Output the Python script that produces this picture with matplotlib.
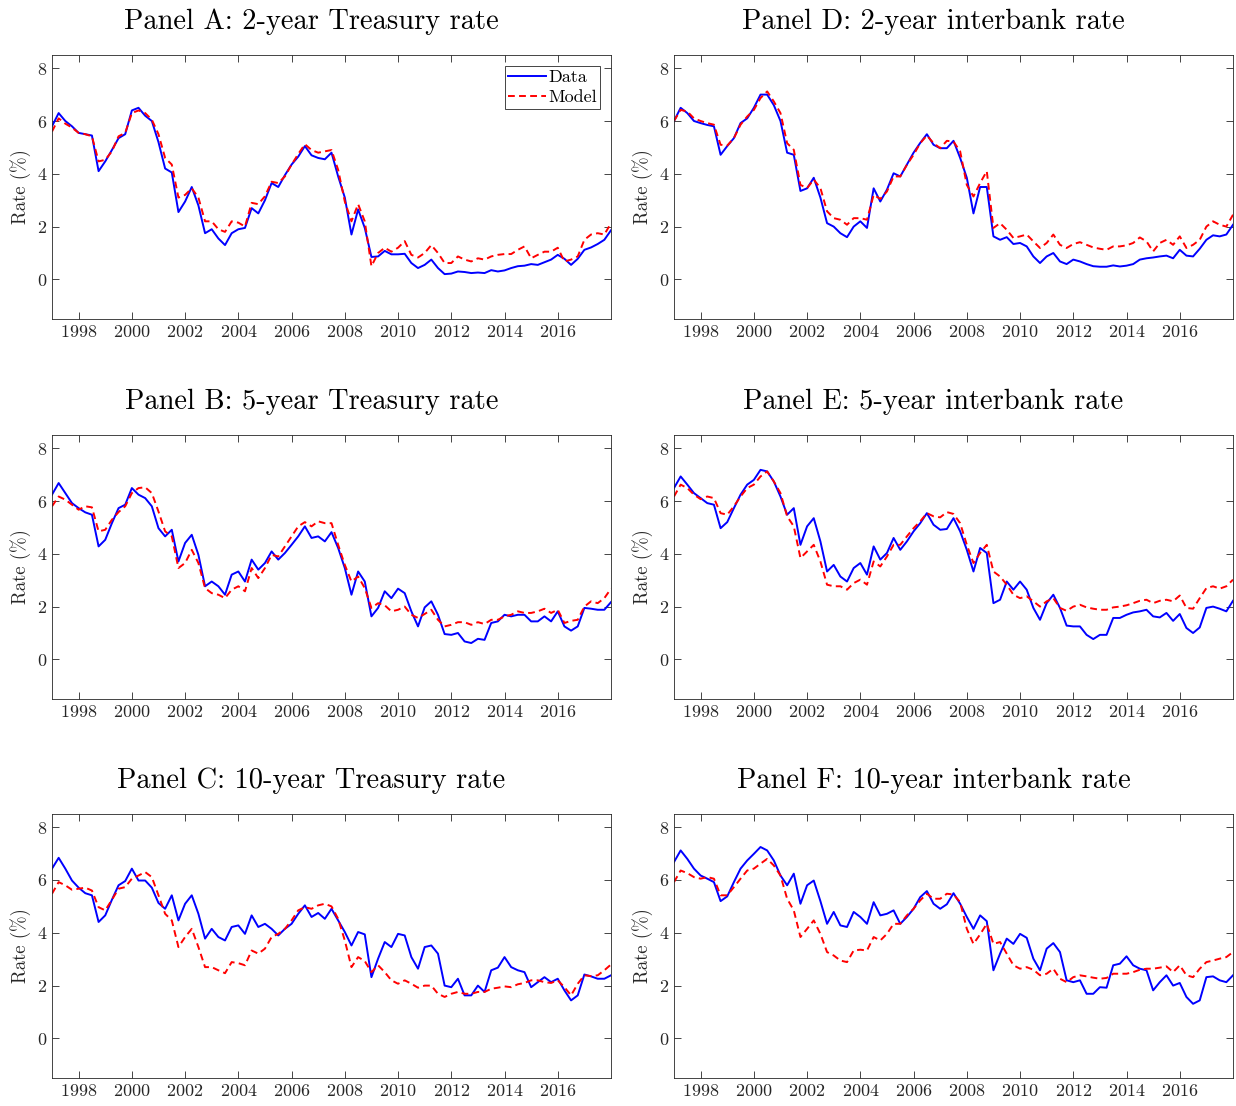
import numpy as np
import matplotlib
matplotlib.use('Agg')
import matplotlib.pyplot as plt

plt.rcParams['font.family'] = ['cmr10', 'DejaVu Serif']
plt.rcParams['axes.unicode_minus'] = False
plt.rcParams['axes.formatter.use_mathtext'] = True

# quarterly observations, Jan 1997 .. end 2017
years = 1997 + np.arange(85) * 0.25

a_data = [5.8, 6.3, 6.0, 5.8,
          5.55, 5.5, 5.45, 4.1, 4.47, 4.9, 5.35, 5.5, 6.4, 6.5, 6.2, 6.0,
          5.2, 4.2, 4.05, 2.55, 2.95, 3.5, 2.8, 1.75, 1.9, 1.55, 1.3, 1.75,
          1.9, 1.95, 2.7, 2.5, 3.0, 3.65, 3.5, 3.95, 4.35, 4.65, 5.05, 4.7,
          4.6, 4.55, 4.8, 3.9, 3.1, 1.7, 2.65, 1.95, 0.85, 0.87, 1.08, 0.95,
          0.95, 0.97, 0.62, 0.43, 0.55, 0.75, 0.43, 0.2, 0.22, 0.3, 0.28, 0.24,
          0.26, 0.24, 0.35, 0.3, 0.34, 0.43, 0.5, 0.52, 0.58, 0.55, 0.65, 0.75,
          0.93, 0.78, 0.55, 0.78, 1.12, 1.21, 1.34, 1.5, 1.86]
a_model = [5.6, 6.1, 5.9, 5.75,
           5.55, 5.5, 5.42, 4.47, 4.53, 4.85, 5.42, 5.55, 6.3, 6.4, 6.3, 6.05,
           5.5, 4.6, 4.35, 3.1, 3.2, 3.45, 3.1, 2.2, 2.2, 1.9, 1.8, 2.2,
           2.15, 2.0, 2.9, 2.85, 3.15, 3.7, 3.65, 3.9, 4.35, 4.75, 5.12, 4.9,
           4.8, 4.85, 4.9, 4.15, 2.95, 2.2, 2.85, 2.2, 0.5, 1.0, 1.2, 1.05,
           1.2, 1.45, 0.93, 0.83, 1.0, 1.3, 1.0, 0.62, 0.62, 0.87, 0.75, 0.68,
           0.8, 0.75, 0.87, 0.93, 0.96, 0.96, 1.12, 1.25, 0.8, 0.93, 1.05, 1.05,
           1.2, 0.68, 0.75, 0.87, 1.5, 1.7, 1.75, 1.7, 2.13]

b_data = [6.24, 6.68, 6.3, 5.92,
          5.73, 5.57, 5.48, 4.28, 4.53, 5.16, 5.73, 5.86, 6.49, 6.24, 6.11, 5.8,
          4.97, 4.66, 4.91, 3.71, 4.41, 4.72, 3.96, 2.77, 2.95, 2.77, 2.45, 3.21,
          3.33, 2.95, 3.78, 3.4, 3.65, 4.09, 3.78, 4.03, 4.34, 4.66, 5.04, 4.6,
          4.66, 4.47, 4.82, 4.22, 3.46, 2.45, 3.33, 2.95, 1.63, 1.95, 2.58, 2.32,
          2.68, 2.51, 1.82, 1.25, 1.97, 2.2, 1.69, 0.96, 0.93, 1.0, 0.68, 0.62,
          0.78, 0.74, 1.38, 1.44, 1.69, 1.63, 1.69, 1.69, 1.44, 1.44, 1.63, 1.44,
          1.82, 1.25, 1.09, 1.25, 1.95, 1.92, 1.88, 1.88, 2.17]
b_model = [5.8, 6.17, 6.05, 5.86,
           5.67, 5.8, 5.76, 4.85, 4.91, 5.29, 5.58, 5.8, 6.3, 6.49, 6.52, 6.3,
           5.6, 4.85, 4.66, 3.46, 3.65, 4.15, 3.65, 2.7, 2.51, 2.45, 2.32, 2.64,
           2.77, 2.58, 3.46, 3.08, 3.46, 3.96, 3.9, 4.28, 4.66, 5.04, 5.2, 5.04,
           5.23, 5.16, 5.16, 4.34, 3.58, 2.95, 3.14, 2.7, 1.95, 2.13, 2.05, 1.82,
           1.88, 2.0, 1.69, 1.57, 1.72, 1.88, 1.5, 1.25, 1.31, 1.41, 1.41, 1.31,
           1.41, 1.34, 1.5, 1.5, 1.63, 1.69, 1.82, 1.76, 1.76, 1.82, 1.92, 1.76,
           1.88, 1.38, 1.46, 1.5, 2.0, 2.2, 2.13, 2.32, 2.68]

c_data = [6.43, 6.84, 6.43, 5.98,
          5.71, 5.5, 5.42, 4.41, 4.66, 5.25, 5.8, 5.96, 6.43, 5.98, 5.98, 5.71,
          5.13, 4.91, 5.42, 4.47, 5.1, 5.42, 4.72, 3.78, 4.15, 3.84, 3.71, 4.22,
          4.28, 3.96, 4.66, 4.22, 4.34, 4.15, 3.9, 4.15, 4.34, 4.72, 5.04, 4.6,
          4.75, 4.53, 4.91, 4.47, 4.03, 3.52, 4.03, 3.94, 2.32, 3.02, 3.65, 3.46,
          3.96, 3.9, 3.08, 2.64, 3.46, 3.52, 3.21, 2.0, 1.94, 2.26, 1.63, 1.63,
          2.0, 1.76, 2.58, 2.68, 3.08, 2.7, 2.58, 2.51, 1.94, 2.13, 2.32, 2.13,
          2.26, 1.82, 1.44, 1.63, 2.42, 2.35, 2.26, 2.26, 2.39]
c_model = [5.48, 5.92, 5.8, 5.63,
           5.67, 5.71, 5.6, 4.97, 4.85, 5.25, 5.67, 5.73, 6.05, 6.17, 6.3, 6.11,
           5.42, 4.72, 4.47, 3.46, 3.84, 4.15, 3.46, 2.7, 2.7, 2.58, 2.47, 2.89,
           2.85, 2.77, 3.33, 3.21, 3.4, 3.84, 3.96, 4.15, 4.47, 4.85, 4.97, 4.91,
           5.04, 5.1, 5.0, 4.53, 3.71, 2.7, 3.08, 2.93, 2.51, 2.77, 2.51, 2.2,
           2.07, 2.2, 2.07, 1.92, 2.0, 2.0, 1.69, 1.57, 1.69, 1.76, 1.69, 1.69,
           1.76, 1.76, 1.88, 1.92, 1.97, 1.94, 2.05, 2.1, 2.2, 2.2, 2.13, 2.1,
           2.2, 1.94, 1.63, 2.07, 2.39, 2.36, 2.39, 2.58, 2.8]

d_data = [6.0, 6.5, 6.3, 6.0,
          5.92, 5.85, 5.8, 4.72, 5.05, 5.35, 5.92, 6.1, 6.5, 7.0, 7.0, 6.6,
          6.0, 4.8, 4.72, 3.35, 3.45, 3.85, 3.1, 2.13, 2.0, 1.75, 1.6, 2.0,
          2.2, 1.95, 3.45, 2.95, 3.4, 4.02, 3.9, 4.35, 4.8, 5.17, 5.5, 5.1,
          4.97, 4.97, 5.25, 4.6, 3.85, 2.5, 3.5, 3.5, 1.63, 1.5, 1.6, 1.34,
          1.38, 1.25, 0.87, 0.62, 0.87, 1.0, 0.68, 0.58, 0.75, 0.68, 0.58, 0.5,
          0.48, 0.48, 0.53, 0.49, 0.52, 0.58, 0.75, 0.8, 0.83, 0.87, 0.9, 0.8,
          1.12, 0.9, 0.87, 1.16, 1.5, 1.67, 1.63, 1.7, 2.07]
d_model = [6.0, 6.42, 6.36, 6.1,
           6.0, 5.92, 5.86, 5.1, 5.07, 5.35, 5.86, 6.17, 6.42, 6.87, 7.12, 6.74,
           6.3, 5.16, 4.91, 3.58, 3.46, 3.78, 3.46, 2.58, 2.32, 2.26, 2.07, 2.32,
           2.32, 2.26, 3.2, 3.05, 3.33, 3.9, 3.9, 4.34, 4.72, 5.16, 5.45, 5.16,
           4.97, 5.25, 5.22, 4.85, 3.58, 3.14, 3.65, 4.1, 1.95, 2.13, 1.88, 1.57,
           1.63, 1.7, 1.44, 1.19, 1.38, 1.7, 1.31, 1.19, 1.34, 1.41, 1.31, 1.21,
           1.16, 1.12, 1.25, 1.25, 1.29, 1.38, 1.59, 1.44, 1.06, 1.38, 1.5, 1.31,
           1.63, 1.19, 1.31, 1.5, 2.0, 2.2, 2.07, 2.0, 2.45]

e_data = [6.49, 6.93, 6.62, 6.3,
          6.11, 5.92, 5.86, 4.97, 5.2, 5.73, 6.24, 6.62, 6.8, 7.18, 7.12, 6.74,
          6.17, 5.48, 5.73, 4.34, 5.04, 5.35, 4.47, 3.33, 3.58, 3.14, 2.95, 3.46,
          3.65, 3.21, 4.28, 3.78, 4.03, 4.6, 4.15, 4.47, 4.85, 5.16, 5.54, 5.1,
          4.91, 4.94, 5.35, 4.85, 4.15, 3.33, 4.22, 4.03, 2.13, 2.26, 2.95, 2.64,
          2.95, 2.64, 1.95, 1.5, 2.13, 2.45, 1.95, 1.28, 1.25, 1.25, 0.93, 0.77,
          0.93, 0.93, 1.57, 1.57, 1.69, 1.78, 1.82, 1.88, 1.63, 1.59, 1.76, 1.46,
          1.72, 1.19, 1.0, 1.21, 1.95, 2.0, 1.92, 1.82, 2.22]
e_model = [6.17, 6.62, 6.49, 6.24,
           6.07, 6.17, 6.11, 5.54, 5.48, 5.8, 6.17, 6.49, 6.62, 6.93, 7.12, 6.74,
           6.3, 5.42, 5.04, 3.84, 4.09, 4.34, 3.71, 2.83, 2.77, 2.77, 2.64, 2.89,
           3.02, 2.83, 3.71, 3.52, 3.9, 4.34, 4.34, 4.66, 4.97, 5.23, 5.54, 5.42,
           5.38, 5.58, 5.51, 5.16, 4.34, 3.65, 4.03, 4.34, 3.33, 3.14, 2.83, 2.45,
           2.32, 2.39, 2.2, 2.0, 2.2, 2.32, 1.95, 1.84, 2.0, 2.07, 1.97, 1.92,
           1.88, 1.88, 1.97, 2.0, 2.05, 2.13, 2.22, 2.26, 2.13, 2.22, 2.26, 2.2,
           2.42, 1.95, 1.92, 2.32, 2.7, 2.77, 2.68, 2.77, 3.02]

f_data = [6.68, 7.12, 6.8, 6.43,
          6.17, 6.05, 5.92, 5.2, 5.38, 5.92, 6.43, 6.74, 6.99, 7.25, 7.12, 6.74,
          6.17, 5.8, 6.24, 5.1, 5.8, 5.98, 5.2, 4.34, 4.79, 4.28, 4.22, 4.79,
          4.6, 4.34, 5.16, 4.66, 4.72, 4.85, 4.34, 4.6, 4.91, 5.35, 5.58, 5.1,
          4.91, 5.08, 5.5, 5.1, 4.6, 4.15, 4.66, 4.44, 2.58, 3.21, 3.78, 3.58,
          3.96, 3.81, 3.02, 2.58, 3.4, 3.61, 3.27, 2.2, 2.13, 2.2, 1.69, 1.69,
          1.94, 1.92, 2.77, 2.83, 3.11, 2.77, 2.64, 2.58, 1.82, 2.13, 2.39, 2.0,
          2.1, 1.57, 1.31, 1.44, 2.32, 2.35, 2.2, 2.13, 2.39]
f_model = [5.92, 6.36, 6.26, 6.11,
           6.05, 6.11, 6.05, 5.42, 5.42, 5.73, 6.05, 6.36, 6.43, 6.62, 6.8, 6.55,
           6.17, 5.29, 4.85, 3.84, 4.15, 4.47, 3.96, 3.27, 3.14, 2.95, 2.89, 3.33,
           3.36, 3.33, 3.84, 3.71, 3.96, 4.34, 4.34, 4.66, 4.91, 5.23, 5.48, 5.29,
           5.29, 5.48, 5.45, 5.16, 4.15, 3.58, 3.94, 4.34, 3.58, 3.65, 3.21, 2.77,
           2.64, 2.7, 2.6, 2.39, 2.45, 2.64, 2.26, 2.13, 2.32, 2.39, 2.35, 2.3,
           2.26, 2.29, 2.45, 2.45, 2.45, 2.51, 2.6, 2.64, 2.64, 2.68, 2.73, 2.51,
           2.77, 2.39, 2.32, 2.64, 2.89, 2.95, 3.02, 3.08, 3.27]

titles = ['Panel A: 2-year Treasury rate', 'Panel B: 5-year Treasury rate',
          'Panel C: 10-year Treasury rate', 'Panel D: 2-year interbank rate',
          'Panel E: 5-year interbank rate', 'Panel F: 10-year interbank rate']
series = [(a_data, a_model), (b_data, b_model), (c_data, c_model),
          (d_data, d_model), (e_data, e_model), (f_data, f_model)]

W, H = 1236, 1106
fig = plt.figure(figsize=(W / 100, H / 100), dpi=100)

lefts = [52, 674]
tops = [55, 435, 814]
aw, ah = 559, 264

for k, (title, (dat, mod)) in enumerate(zip(titles, series)):
    col, row = divmod(k, 3)
    x0, y0 = lefts[col], tops[row]
    ax = fig.add_axes([x0 / W, 1 - (y0 + ah) / H, aw / W, ah / H])
    ax.plot(years, dat, '-', color='#0000ff', lw=1.4, label='Data')
    ax.plot(years, mod, color='#ff0000', lw=1.4, ls=(0, (3.5, 2.2)), label='Model')
    ax.set_xlim(1997, 2018)
    ax.set_ylim(-1.5, 8.5)
    ax.set_xticks(np.arange(1998, 2017, 2))
    ax.set_yticks([0, 2, 4, 6, 8])
    ax.tick_params(direction='in', top=True, right=True, length=5,
                   width=0.6, labelsize=13, colors='#262626')
    for sp in ax.spines.values():
        sp.set_color('#262626')
        sp.set_linewidth(0.6)
    ax.set_ylabel('Rate (%)', fontsize=13.5, color='#262626', labelpad=4)
    # title sits over the axes plus its y label
    ax.set_title(title, fontsize=20.5, pad=19, x=0.5 - 20 / aw)
    if k == 0:
        leg = ax.legend(loc='upper right', fontsize=13, frameon=True,
                        fancybox=False, framealpha=1, edgecolor='#262626',
                        borderpad=0.2, labelspacing=0.25, handlelength=2.1,
                        handletextpad=0.1, borderaxespad=0.6)
        leg.get_frame().set_linewidth(0.6)

fig.savefig('out.png', dpi=100)
